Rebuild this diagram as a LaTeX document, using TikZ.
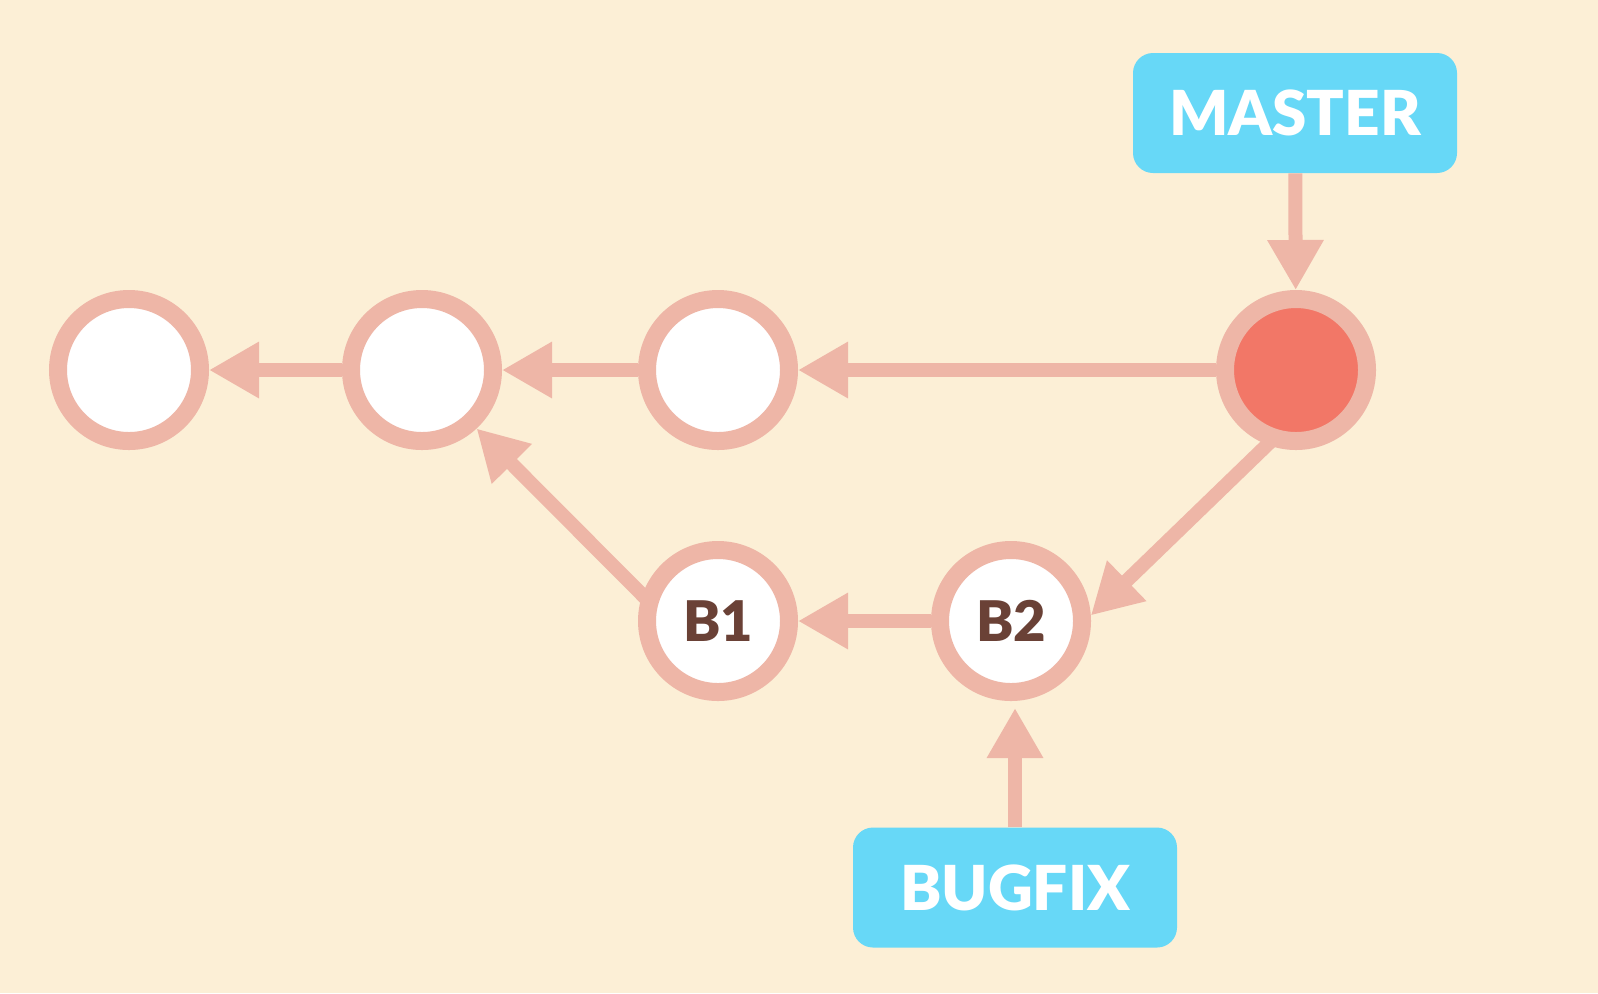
\documentclass[tikz,border=0pt]{standalone}
\usepackage{fontspec}
\newfontfamily\labelfont{Lato Black}
\usetikzlibrary{arrows.meta,backgrounds,calc}
\definecolor{bg}{HTML}{FCEFD6}
\definecolor{ring}{HTML}{EEB6A7}
\definecolor{lbl}{HTML}{67D8F7}
\definecolor{headc}{HTML}{F27767}
\definecolor{txt}{HTML}{6A4136}
\begin{document}
\begin{tikzpicture}[x=0.5pt,y=-0.5pt,
  commit/.style={circle,draw=ring,line width=9pt,fill=white,minimum size=71pt,inner sep=0pt,
    font=\labelfont\fontsize{28}{30}\selectfont,text=txt},
  branch/.style={rectangle,rounded corners=10pt,fill=lbl,minimum width=162pt,minimum height=60pt,
    inner sep=0pt,font=\labelfont\fontsize{31}{34}\selectfont,text=white},
  arr/.style={draw=ring,line width=7pt,-{Triangle[length=25pt,width=26.5pt]}}]
\useasboundingbox (0,0) rectangle (1598,993);
% commits
\node[commit] (c1) at (129,370) {};
\node[commit] (c2) at (422,370) {};
\node[commit] (c3) at (718,370) {};
\node[commit,fill=headc] (c4) at (1296,370) {};
\node[commit] (b1) at (718,621) {B1};
\node[commit] (b2) at (1011,621) {B2};
% branch labels
\node[branch] (master) at (1295,113) {MASTER};
\node[branch] (bugfix) at (1015,887.5) {BUGFIX};
% connectors
\draw[arr] (c2) -- (c1);
\draw[arr] (c3) -- (c2);
\draw[arr] (c4) -- (c3);
\draw[arr] (b2) -- (b1);
\draw[arr] (master) -- (c4);
\draw[arr,shorten >=3.5pt] (bugfix.north) -- (bugfix.north |- b2.south);
\begin{scope}[on background layer]
  \fill[bg] (0,0) rectangle (1598,993);
  \draw[arr] ($(c4.249)!-12pt!(b2.4)$) -- (b2.4);
  \draw[arr] ($(b1.161)!-12pt!(c2.313)$) -- (c2.313);
\end{scope}
\end{tikzpicture}
\end{document}
